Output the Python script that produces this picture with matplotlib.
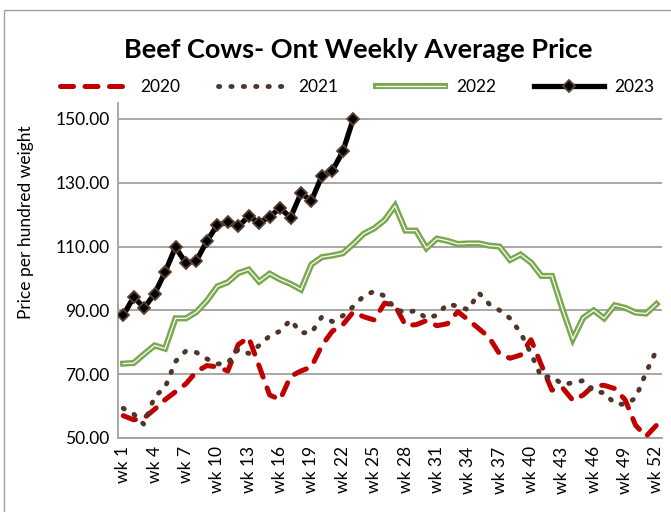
import matplotlib
matplotlib.use("Agg")
import matplotlib.pyplot as plt
from matplotlib.lines import Line2D
from matplotlib.patches import Rectangle
import matplotlib.patheffects as pe

plt.rcParams['font.family'] = ['Lato', 'DejaVu Sans']

weeks = list(range(1, 53))
tick_weeks = list(range(1, 53, 3))
tick_labels = [f"wk {w}" for w in tick_weeks]

p2020 = [57, 55.7, 56.3, 59, 62, 64.5, 67, 70.8, 72.7, 72.3,
         71, 79.3, 81.5, 72.5, 63.5, 62, 69.3, 71, 72.3, 79,
         83.5, 85.5, 89.5, 88, 87, 92.3, 91.5, 85.3, 85.5, 86.8,
         85.2, 85.8, 89.6, 87, 84.3, 81.5, 76.3, 75, 76, 80.8,
         72.8, 65, 65.8, 61.8, 63.5, 66.5, 66.5, 65.5, 62, 54,
         50.5, 54]
p2021 = [59.3, 57.5, 54.2, 63, 65.8, 74, 77.3, 76.8, 74.8, 73.2,
         73.5, 77.8, 76.5, 79, 82, 83.5, 87, 83, 83, 88,
         86.5, 88.3, 91.2, 94.5, 96, 94.5, 90.5, 89.2, 90, 87.5,
         88.5, 92, 91.3, 90.2, 95.5, 92, 90, 87.5, 83, 76.5,
         69, 69.3, 66.8, 67.3, 68, 64.5, 64.2, 60.8, 60.5, 62.5,
         70.5, 77.5]
p2022 = [73.3, 73.5, 76.3, 79, 78, 87.5, 87.5, 89.5, 93, 97.5,
         98.8, 101.7, 102.8, 99, 101.5, 99.7, 98.3, 96.5, 104.4, 106.7,
         107.2, 107.9, 110.8, 114, 115.7, 118.3, 122.8, 115, 115, 109.5,
         112.5, 111.8, 110.8, 111, 111, 110.3, 110, 105.8, 107.5, 105,
         100.8, 100.8, 90.5, 81, 87.7, 90, 87.5, 91.6, 90.8, 89.3,
         89, 92]
p2023 = [88.4, 94.2, 90.8, 95.2, 102, 109.8, 104.8, 105.6, 111.7, 116.8,
         117.6, 116.3, 119.5, 117.5, 119.3, 122.1, 119.1, 126.7, 124.4, 132.1,
         133.8, 139.8, 150]
y_ticks = [50, 70, 90, 110, 130, 150]
series_names = ["2020", "2021", "2022", "2023"]

RED = "#C00000"
BROWN = "#4E3629"
GREEN = "#7AA84F"
GRID = "#A0A0A0"

fig = plt.figure(figsize=(6.71, 5.12), dpi=100)
ax = fig.add_axes([118/671, 1-438/512, (661.7-118)/671, (438-103)/512])

# chart border
fig.patches.append(Rectangle((4/671, -0.05), 1.1, 1-10/512+0.05, transform=fig.transFigure,
                             fill=False, edgecolor=GRID, lw=1.0, zorder=0))

for y in y_ticks:
    ax.axhline(y, color=GRID, lw=1.3, zorder=0)

DOT_LW = 3.5
DOT_DASH = (0.25, 2.3)
RED_LW = 3.6
RED_DASH = (2.6, 2.3)

# 2020
l20, = ax.plot(weeks, p2020, color=RED, lw=RED_LW, dash_capstyle='round',
               solid_joinstyle='round', zorder=3)
l20.set_dashes(RED_DASH)
# 2021
l21, = ax.plot(weeks, p2021, color=BROWN, lw=DOT_LW, dash_capstyle='round', zorder=3)
l21.set_dashes(DOT_DASH)
# 2022 double line
ax.plot(weeks, p2022, color=GREEN, lw=4.4, solid_joinstyle='miter', zorder=2)
ax.plot(weeks, p2022, color='white', lw=0.9, solid_joinstyle='miter', zorder=2.1)
# 2023
w23 = weeks[:len(p2023)]
ax.plot(w23, p2023, color='black', lw=3.8, marker='D', markersize=6.5,
        markerfacecolor='black', markeredgecolor='#5A4030', markeredgewidth=1.3,
        solid_joinstyle='round', zorder=4)

ax.set_xlim(0.5, 52.5)
ax.set_ylim(50, 155)
ax.set_yticks(y_ticks)
ax.set_yticklabels([f"{v:.2f}" for v in y_ticks], fontsize=12.5)
ax.set_xticks(tick_weeks)
ax.set_xticklabels(tick_labels, rotation=90, fontsize=12.5, va='top', ha='center')
ax.tick_params(length=0, pad=6)
for s in ['top', 'right']:
    ax.spines[s].set_visible(False)
for s in ['left', 'bottom']:
    ax.spines[s].set_color(GRID)
    ax.spines[s].set_linewidth(1.3)

ax.set_ylabel("Price per hundred weight", fontsize=12.5)
ax.yaxis.set_label_coords(-0.155, 0.645)

fig.text(358/671, 1-50/512, "Beef Cows- Ont Weekly Average Price", fontsize=19.5,
         fontweight='bold', ha='center', va='center')

# legend handles
h20 = Line2D([], [], color=RED, lw=RED_LW, dash_capstyle='round')
h20.set_dashes(RED_DASH)
h21 = Line2D([], [], color=BROWN, lw=DOT_LW, dash_capstyle='round')
h21.set_dashes(DOT_DASH)
h22 = Line2D([], [], color=GREEN, lw=4.4,
             path_effects=[pe.Stroke(linewidth=4.4, foreground=GREEN),
                           pe.Stroke(linewidth=0.9, foreground='white')])
h23 = Line2D([], [], color='black', lw=3.8, marker='D', markersize=6.5,
             markerfacecolor='black', markeredgecolor='#5A4030', markeredgewidth=1.3)
fig.legend([h20, h21, h22, h23], series_names, loc='center', ncol=4,
           bbox_to_anchor=(357/671, 1-87/512), frameon=False, fontsize=12.5,
           handlelength=4.0, handletextpad=0.6, columnspacing=2.2)

fig.savefig("out.png", dpi=100)
